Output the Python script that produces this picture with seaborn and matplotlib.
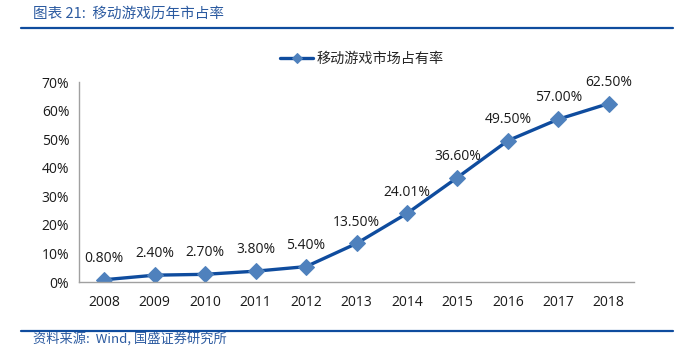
import pandas as pd
import matplotlib
matplotlib.use('Agg')
import matplotlib.pyplot as plt
import seaborn as sns
from matplotlib.ticker import FixedLocator

sns.set_style('white')
plt.rcParams['font.family'] = ['Open Sans', 'Noto Sans CJK SC', 'DejaVu Sans']

# data
years = [2008, 2009, 2010, 2011, 2012, 2013, 2014, 2015, 2016, 2017, 2018]
share = [0.80, 2.40, 2.70, 3.80, 5.40, 13.50, 24.01, 36.60, 49.50, 57.00, 62.50]
series_name = '移动游戏市场占有率'
title = '图表 21:  移动游戏历年市占率'
source = '资料来源:  Wind, 国盛证券研究所'

df = pd.DataFrame({'year': years, 'share': share})

fig = plt.figure(figsize=(6.92, 3.57), dpi=100)
ax = fig.add_axes([0.1142, 0.210, 0.802, 0.560])

sns.lineplot(data=df, x='year', y='share', ax=ax, color='#0F4C9E', linewidth=2.4,
             marker='D', markersize=8.5, markerfacecolor='#4F81BD',
             markeredgecolor='#4F81BD', label=series_name)

for x, y in zip(years, share):
    ax.annotate(f'{y:.2f}%', (x, y), xytext=(0, 10), textcoords='offset points',
                ha='center', va='bottom', fontsize=10, color='#1a1a1a')

ax.set_xlim(years[0] - 0.5, years[-1] + 0.5)
ax.set_ylim(0, 70)
ax.set_yticks(range(0, 71, 10))
ax.set_yticklabels([f'{v}%' for v in range(0, 71, 10)])
ax.set_xticks(years)
ax.set_xticklabels([str(y) for y in years])
ax.xaxis.set_minor_locator(FixedLocator([y + 0.5 for y in [years[0] - 1] + years]))
ax.tick_params(axis='x', which='major', length=0, labelsize=10, pad=9, colors='#1a1a1a')
ax.tick_params(axis='x', which='minor', direction='in', length=4, color='#a0a0a0', width=1)
ax.tick_params(axis='y', which='major', direction='out', length=4, color='#a0a0a0',
               labelsize=10, colors='#1a1a1a', pad=3)
ax.tick_params(axis='y', colors='#a0a0a0', labelcolor='#1a1a1a')
ax.set_xlabel('')
ax.set_ylabel('')
sns.despine(ax=ax)
for s in ['left', 'bottom']:
    ax.spines[s].set_color('#a0a0a0')
    ax.spines[s].set_linewidth(1)

ax.legend(loc='center', bbox_to_anchor=(0.51, 1.115), frameon=False,
          handlelength=2.3, handletextpad=0.25, markerscale=0.55,
          prop={'family': ['Noto Sans CJK SC'], 'size': 10.2})

# header and footer
fig.text(0.048, 0.962, title, fontsize=10.5, color='#2B5AA0', style='italic',
         va='center', family=['Noto Sans CJK SC', 'DejaVu Sans'])
fig.add_artist(plt.Line2D([0.030, 0.972], [0.921, 0.921], color='#0F4C9E', linewidth=1.6))
fig.add_artist(plt.Line2D([0.030, 0.972], [0.073, 0.073], color='#0F4C9E', linewidth=1.6))
fig.text(0.048, 0.050, source, fontsize=9.5, color='#2B5AA0', style='italic',
         va='center', family=['Noto Sans CJK SC', 'DejaVu Sans'])

fig.savefig('out.png', dpi=100)
